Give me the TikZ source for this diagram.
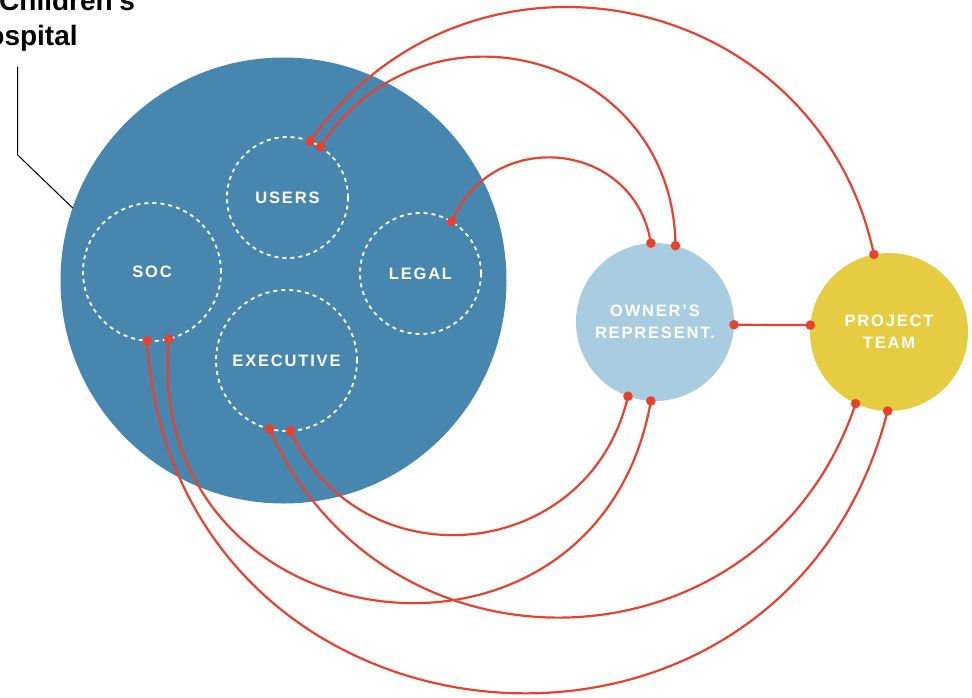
\documentclass[tikz,border=0pt]{standalone}
\usepackage{fontspec}
\setmainfont{Liberation Sans}
\newfontfamily\lblfont[LetterSpace=11]{Liberation Sans Bold}
\newfontfamily\titlefont{Liberation Sans Bold}
\definecolor{hospblue}{HTML}{4686AF}
\definecolor{ownerblue}{HTML}{A8CDE1}
\definecolor{teamyellow}{HTML}{E6CC41}
\definecolor{linkred}{HTML}{E8412E}
\begin{document}
\begin{tikzpicture}[x=1pt,y=1pt,
  hosp/.style={circle,fill=hospblue,minimum size=446pt,inner sep=0pt,outer sep=0pt},
  dept/.style={circle,draw=white,line width=1.8pt,dash pattern=on 4pt off 4pt,minimum size=#1,inner sep=0pt,outer sep=0pt,text=white,font=\lblfont\fontsize{16.5}{18}\selectfont},
  party/.style={circle,minimum size=158pt,inner sep=0pt,outer sep=0pt,text=white,align=center,font=\lblfont\fontsize{16.5}{22}\selectfont},
  link/.style={draw=linkred,line width=2.2pt},
  dot/.style={fill=linkred},
  titletext/.style={font=\titlefont\fontsize{28}{33}\selectfont,anchor=base west,inner sep=0pt,text=black},
  leader/.style={draw=black,line width=1pt}
]
\useasboundingbox (0,-697) rectangle (972,0);
\clip (0,-697) rectangle (972,0);

% title
\node[titletext] (title1) at (-1,-10) {Children's};
\node[titletext] (title2) at (-33,-45) {Hospital};

% circles
\node[hosp] (hosp) at (283.5,-280.5) {};
\node[dept=121pt] (users) at (287.5,-197.5) {USERS};
\node[dept=138pt] (soc) at (152,-272) {SOC};
\node[dept=121pt] (legal) at (420.5,-273.5) {LEGAL};
\node[dept=141pt] (exec) at (286.5,-360.5) {EXECUTIVE};
\node[party,fill=ownerblue] (owner) at (655,-322) {OWNER’S\\REPRESENT.};
\node[party,fill=teamyellow] (team) at (889,-332) {PROJECT\\TEAM};

% leader
\coordinate (ldtop) at (17.7,-66.7);
\coordinate (ldbend) at (17.7,-155);
\draw[leader] (ldtop) -- (ldbend) -- (hosp.161);

% connection points
\coordinate (u1) at (users.68);
\coordinate (u2) at (users.57);
\coordinate (lg) at (legal.59);
\coordinate (s1) at (soc.266);
\coordinate (s2) at (soc.284);
\coordinate (e1) at (exec.256);
\coordinate (e2) at (exec.273);
\coordinate (ot1) at (owner.93);
\coordinate (ot2) at (owner.75);
\coordinate (orr) at (owner.358);
\coordinate (ob1) at (owner.250);
\coordinate (ob2) at (owner.267);
\coordinate (tt) at (team.101);
\coordinate (tl) at (team.175);
\coordinate (tb1) at (team.245);
\coordinate (tb2) at (team.269);

% links
\draw[link] (u1) to[out=55,in=102,distance=274pt] (tt);
\draw[link] (u2) to[out=57,in=90.5,distance=192pt] (ot2);
\draw[link] (lg) to[out=67,in=99,distance=104pt] (ot1);
\draw[link] (orr) -- (tl);
\draw[link] (e2) to[out=-65,in=257,distance=171pt] (ob1);
\draw[link] (s2) to[out=265,in=260,distance=311pt] (ob2);
\draw[link] (e1) to[out=294,in=251.5,distance=288pt] (tb1);
\draw[link] (s1) to[out=273.5,in=255.6,distance=428pt] (tb2);

% dots
\foreach \p in {u1,u2,lg,s1,s2,e1,e2,ot1,ot2,orr,ob1,ob2,tt,tl,tb1,tb2}
  \fill[dot] (\p) circle[radius=4.8];
\end{tikzpicture}
\end{document}
